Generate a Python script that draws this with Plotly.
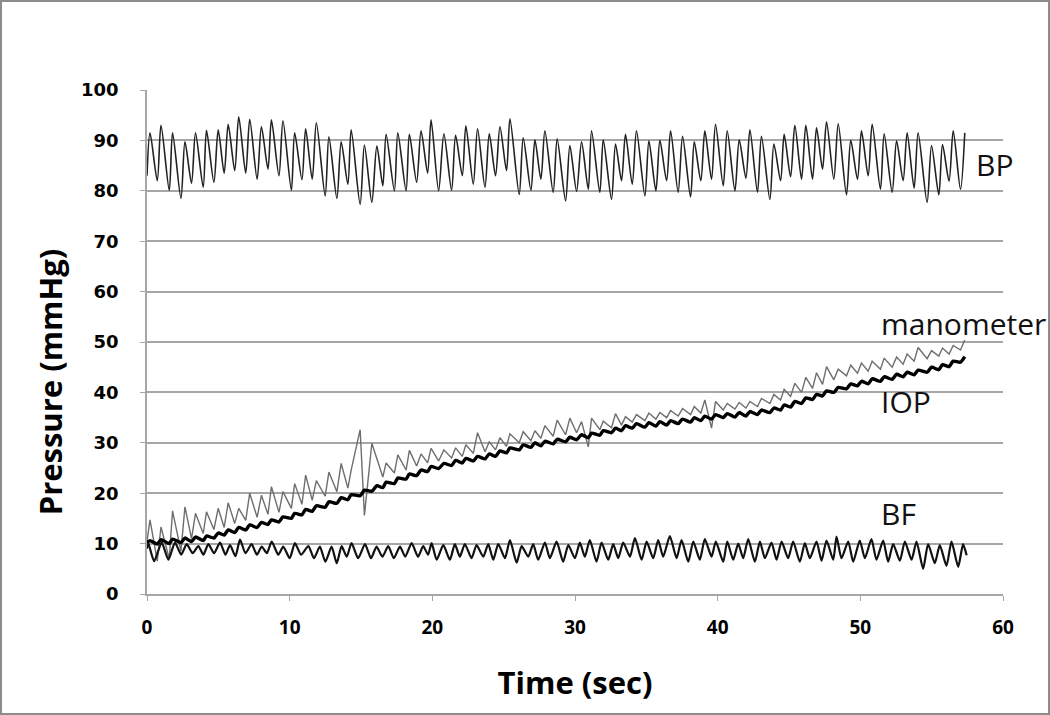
import plotly.graph_objects as go

# time stamps (sec) of the pulse peaks / troughs, shared by BP, IOP and manometer
pulse_t = [0.0, 0.21, 0.72, 0.98, 1.56, 1.79, 2.38, 2.66, 3.12, 3.40, 3.94, 4.17, 4.69, 4.99, 5.41, 5.69,
           6.15, 6.43, 6.92, 7.20, 7.72, 8.02, 8.48, 8.72, 9.25, 9.53, 10.12, 10.35, 10.86, 11.12, 11.58,
           11.87, 12.49, 12.75, 13.31, 13.61, 14.08, 14.31, 14.94, 15.24, 15.76, 16.11, 16.53, 16.76, 17.34,
           17.58, 18.16, 18.39, 18.90, 19.21, 19.67, 19.91, 20.44, 20.81, 21.35, 21.63, 22.10, 22.35, 22.87,
           23.17, 23.69, 23.99, 24.43, 24.74, 25.20, 25.44, 26.09, 26.37, 26.91, 27.19, 27.61, 27.89, 28.47,
           28.75, 29.34, 29.64, 30.11, 30.46, 30.93, 31.16, 31.74, 31.98, 32.56, 32.84, 33.26, 33.54, 34.01,
           34.31, 34.90, 35.18, 35.67, 35.95, 36.42, 36.70, 37.23, 37.54, 38.10, 38.36, 38.82, 39.10, 39.57,
           39.85, 40.39, 40.67, 41.21, 41.51, 41.98, 42.26, 42.79, 43.07, 43.66, 43.94, 44.41, 44.66, 45.11,
           45.41, 45.88, 46.18, 46.65, 46.93, 47.35, 47.63, 48.14, 48.45, 49.03, 49.33, 49.80, 50.08, 50.55,
           50.83, 51.41, 51.67, 52.23, 52.54, 53.00, 53.28, 53.77, 54.05, 54.68, 54.99, 55.50, 55.76, 56.22,
           56.51, 57.02, 57.32]

bp = [83, 91.5, 82, 93, 80.1, 91.5, 78.5, 89.7, 81.5, 91.5, 80.7, 92, 81.7, 92.1, 83.5, 93.2, 84, 94.7,
      83.5, 94.2, 82.3, 92.7, 84.3, 94.1, 83, 93.9, 80.1, 91.5, 82.2, 92.3, 82.3, 93.5, 79, 90.7, 78.5, 89.7,
      81.3, 92.1, 77.3, 89.1, 77.7, 88.9, 81, 91.2, 80, 91.5, 80, 91.2, 81.7, 91.9, 83.5, 94.1, 80,
      91.3, 80.1, 91, 83, 92.9, 81.3, 92.3, 80.7, 91.3, 83, 92.7, 84, 94.3, 79.3, 90.5, 80.1, 90.1, 82.3,
      91.9, 79.7, 90.3, 78, 89, 79.9, 89.7, 80.3, 91.9, 79.7, 90.1, 78.3, 89.3, 82, 91.2, 81.3, 91.9, 79,
      89.9, 80, 90, 82, 91.9, 79.7, 90.8, 78.8, 89.7, 82, 91.9, 82.3, 93.2, 81, 91.9,
      80, 90.1, 82.5, 92.1, 79.7, 90.8, 78.3, 89.3, 82, 91.2, 82.8, 93, 82.3, 93, 82.3, 92.5, 84.3, 93.7,
      82.3, 93.3, 79.2, 90, 82.3, 91.9, 83, 93.2, 80.3, 91.3, 79.7, 89.9, 82, 91.5, 80.5, 91.5, 77.7, 89,
      79.2, 89.2, 81.9, 91.9, 80.3, 91.5]

iop = [10.2, 10.6, 9.9, 10.8, 10.0, 10.9, 10.2, 11.1, 10.4, 11.3, 10.6, 11.5, 11.1, 12.1, 11.7, 12.7,
       12.2, 13.2, 12.7, 13.7, 13.2, 14.2, 13.8, 14.7, 14.3, 15.3, 15.0, 16.0, 15.7, 16.8, 16.4, 17.5,
       17.2, 18.3, 18.0, 19.1, 18.7, 19.7, 19.5, 20.6, 20.4, 21.5, 21.1, 22.2, 21.9, 23.0, 22.8, 23.8,
       23.5, 24.6, 24.3, 25.3, 24.9, 25.9, 25.5, 26.5, 26.0, 26.9, 26.4, 27.3, 26.8, 27.8, 27.3, 28.4,
       28.0, 29.0, 28.6, 29.6, 29.1, 30.0, 29.4, 30.3, 29.8, 30.7, 30.2, 31.1, 30.6, 31.6, 31.0, 31.9,
       31.5, 32.4, 32.0, 32.9, 32.4, 33.4, 32.9, 33.8, 33.1, 34.0, 33.3, 34.2, 33.5, 34.4, 33.8, 34.7,
       34.1, 35.0, 34.4, 35.3, 34.7, 35.6, 35.0, 35.8, 35.1, 36.0, 35.3, 36.2, 35.6, 36.5, 36.0, 36.9,
       36.5, 37.5, 37.1, 38.2, 37.8, 38.9, 38.6, 39.6, 39.3, 40.3, 40.0, 41.0, 40.7, 41.7, 41.3, 42.2,
       41.7, 42.7, 42.2, 43.1, 42.6, 43.6, 43.1, 44.0, 43.5, 44.4, 44.0, 45.0, 44.5, 45.5, 45.1, 46.2,
       46.0, 47.1]

manometer = [10.5, 14.7, 6.5, 13.3, 7.0, 16.5, 8.5, 17.3, 11.0, 16.0, 12.0, 16.3, 12.8, 17.0, 13.2, 18.1,
             14.0, 17.0, 14.6, 20.0, 15.2, 19.6, 15.8, 21.3, 16.2, 20.3, 17.0, 21.9, 17.8, 23.6, 18.6, 22.5,
             19.4, 24.2, 20.3, 25.9, 21.0, 24.6, 32.6, 15.6, 29.9, 26.9, 23.2, 26.0, 24.0, 27.6, 24.6, 28.5,
             25.4, 27.8, 26.0, 28.9, 26.4, 28.6, 27.0, 29.0, 27.3, 29.6, 27.9, 32.0, 28.2, 30.2, 28.6, 31.0,
             29.3, 31.8, 30.0, 32.2, 30.4, 32.4, 30.9, 33.4, 31.3, 34.5, 31.6, 34.9, 32.0, 34.2, 29.2, 34.9,
             32.6, 34.3, 33.0, 35.8, 33.5, 35.2, 34.1, 35.6, 34.4, 35.9, 34.7, 36.0, 35.0, 36.4, 35.3, 36.8,
             35.6, 37.2, 35.9, 38.5, 32.9, 38.2, 36.5, 37.8, 36.7, 38.0, 36.9, 38.2, 37.2, 38.8, 37.8, 39.6,
             38.5, 40.6, 39.2, 41.8, 40.0, 43.0, 40.8, 43.9, 41.6, 45.1, 42.5, 44.6, 43.3, 45.4, 43.8, 45.8,
             44.2, 46.2, 44.6, 46.8, 45.0, 47.0, 45.6, 47.6, 46.2, 48.9, 46.7, 48.3, 47.2, 48.8, 47.6, 49.3,
             48.4, 50.4]

bf_t = [0.0, 0.09, 0.5, 1.03, 1.5, 1.96, 2.4, 2.78, 3.2, 3.60, 3.95, 4.30, 4.7, 5.12, 5.5, 5.82, 6.2, 6.52,
        6.9, 7.33, 7.7, 8.04, 8.4, 8.74, 9.2, 9.55, 10.0, 10.37, 10.8, 11.31, 11.7, 12.12, 12.5, 12.94,
        13.3, 13.64, 14.0, 14.34, 14.8, 15.28, 15.7, 16.09, 16.5, 16.91, 17.3, 17.73, 18.1, 18.55, 19.0,
        19.36, 19.7, 19.95, 20.3, 20.77, 21.23, 21.58, 21.93, 22.28, 22.75, 23.10, 23.57, 23.92, 24.27,
        24.62, 25.09, 25.44, 25.91, 26.26, 26.72, 27.07, 27.42, 27.89, 28.24, 28.71, 29.17, 29.53, 29.99,
        30.34, 30.69, 31.04, 31.51, 31.86, 32.33, 32.68, 33.03, 33.38, 33.85, 34.20, 34.67, 35.02, 35.48,
        35.83, 36.18, 36.65, 37.12, 37.47, 37.94, 38.29, 38.75, 39.10, 39.57, 39.87, 40.39, 40.67, 41.09,
        41.44, 41.79, 42.14, 42.61, 42.96, 43.31, 43.77, 44.13, 44.48, 44.94, 45.29, 45.76, 46.11, 46.46,
        46.93, 47.28, 47.63, 48.10, 48.33, 48.68, 49.15, 49.50, 49.96, 50.32, 50.78, 51.13, 51.60, 51.95,
        52.30, 52.77, 53.12, 53.59, 53.94, 54.40, 54.75, 55.22, 55.57, 56.04, 56.39, 56.86, 57.2, 57.45]

bf = [9.0, 10.1, 6.5, 10.2, 6.8, 10.2, 7.8, 9.9, 8.1, 9.5, 7.8, 9.9, 8.1, 10.2, 7.8, 9.7, 7.5, 10.8,
      8.1, 9.9, 7.8, 9.4, 8.1, 10.4, 7.8, 9.4, 7.1, 10.1, 7.8, 9.5, 7.1, 9.4, 6.4, 9.4, 6.1, 9.5, 7.4,
      10.1, 7.1, 9.9, 7.1, 9.4, 7.4, 9.5, 7.1, 9.4, 7.4, 10.1, 7.4, 9.5, 7.8, 10.1, 6.8, 9.7, 6.8, 9.9,
      7.4, 9.9, 7.1, 9.7, 7.4, 9.9, 6.8, 9.9, 7.1, 10.7, 6.2, 9.5, 7.4, 9.9, 6.8, 10.2, 7.1, 10.4, 6.4,
      9.7, 7.1, 10.2, 7.4, 10.7, 6.4, 10.2, 6.8, 9.9, 7.1, 10.2, 7.4, 11.1, 6.8, 10.4, 7.1, 10.7, 7.4,
      11.5, 7.1, 10.7, 6.4, 10.4, 6.8, 10.9, 7.4, 10.4, 6.4, 10.4, 6.8, 10.0, 7.1, 10.9, 6.4, 10.4, 7.1,
      10.2, 6.8, 10.4, 7.1, 10.4, 6.4, 10.1, 7.1, 10.4, 6.6, 10.6, 6.8, 11.4, 7.1, 10.4, 6.4, 10.6, 7.1,
      10.9, 6.8, 10.6, 6.4, 9.9, 6.6, 10.4, 6.8, 10.4, 5.0, 9.9, 6.1, 9.7, 5.6, 10.4, 5.4, 9.9, 7.7]

x_ticks = [0, 10, 20, 30, 40, 50, 60]
y_ticks = [0, 10, 20, 30, 40, 50, 60, 70, 80, 90, 100]

fig = go.Figure()

fig.add_trace(go.Scatter(x=pulse_t, y=manometer, mode='lines', name='manometer',
                         line=dict(color='#6e6e6e', width=1.4)))
fig.add_trace(go.Scatter(x=pulse_t, y=bp, mode='lines', name='BP',
                         line=dict(color='#222222', width=1.6, shape='spline', smoothing=0.8)))
fig.add_trace(go.Scatter(x=bf_t, y=bf, mode='lines', name='BF',
                         line=dict(color='#111111', width=2.2, shape='spline', smoothing=0.6)))
fig.add_trace(go.Scatter(x=pulse_t, y=iop, mode='lines', name='IOP',
                         line=dict(color='#000000', width=3.4, shape='spline', smoothing=0.6)))

# series labels
labels = [("BP", 58.0, 85.2), ("manometer", 51.3, 53.6), ("IOP", 51.3, 38.2), ("BF", 51.3, 15.9)]
for text, lx, ly in labels:
    fig.add_annotation(x=lx, y=ly, text=text, showarrow=False, xanchor='left',
                       font=dict(family='Open Sans', size=30, color='#111111'))

left, right, top, bottom = 147, 47, 90, 121
pw, ph = 1050 - left - right, 715 - top - bottom

# y axis title sits a little below the axis centre in the original
fig.add_annotation(xref='paper', yref='y', x=-(left - 50) / pw, y=42, text='Pressure (mmHg)',
                   textangle=-90, showarrow=False, xanchor='center', yanchor='middle',
                   font=dict(family='Open Sans', size=31, color='black', weight='bold'))

fig.update_layout(
    width=1050, height=715,
    margin=dict(l=left, r=right, t=top, b=bottom),
    paper_bgcolor='white', plot_bgcolor='white',
    showlegend=False,
    xaxis=dict(range=[0, 60], tickvals=x_ticks, showgrid=False, zeroline=False,
               showline=True, linecolor='#a6a6a6', linewidth=1.5,
               ticks='outside', ticklen=5, tickcolor='#a6a6a6', ticklabelstandoff=10,
               tickfont=dict(family='Open Sans', size=19, color='black', weight='bold'),
               title=dict(text='Time (sec)', standoff=34,
                          font=dict(family='Open Sans', size=31, color='black', weight='bold'))),
    yaxis=dict(range=[0, 100], tickvals=y_ticks, showgrid=True, gridcolor='#a6a6a6', gridwidth=1.5,
               zeroline=False, showline=True, linecolor='#a6a6a6', linewidth=1.5,
               ticks='outside', ticklen=5, tickcolor='#a6a6a6', ticklabelstandoff=18,
               tickfont=dict(family='DejaVu Sans', size=18, color='black', weight='bold')),
)

# grey frame round the whole picture
fig.add_shape(type='rect', xref='paper', yref='paper',
              x0=-(left - 1) / pw, x1=1 + (right - 1) / pw,
              y0=-(bottom - 1) / ph, y1=1 + (top - 1) / ph,
              line=dict(color='#8c8c8c', width=2), layer='below')

# drop the browser's default page margin so the chart sits at the window's corner
fig.write_html("out.html", config={'displayModeBar': False},
               post_script="document.body.style.margin='0';")
